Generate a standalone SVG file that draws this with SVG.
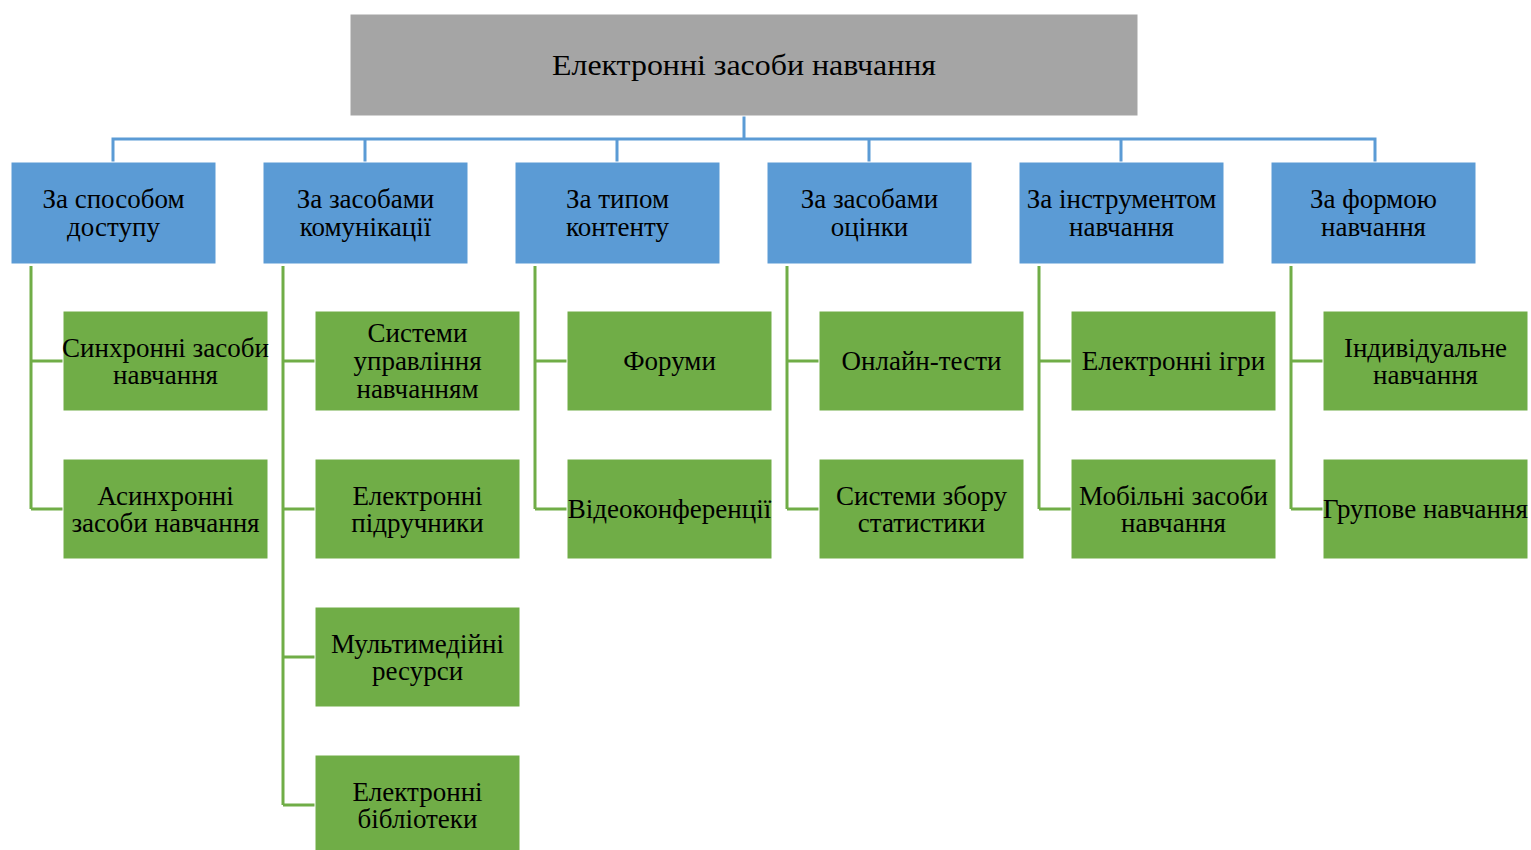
<svg xmlns="http://www.w3.org/2000/svg" width="1531" height="850" viewBox="0 0 1531 850">
<style>
text{font-family:"Liberation Serif","Times New Roman",serif;fill:#000;text-anchor:middle}
.t{font-size:27px}
.root{fill:#A5A5A5;stroke:#fff;stroke-width:1}
.cat{fill:#5B9BD5;stroke:#fff;stroke-width:1}
.leaf{fill:#70AD47;stroke:#fff;stroke-width:1}
.bl{fill:none;stroke:#5B9BD5;stroke-width:3}
.gl{fill:none;stroke:#70AD47;stroke-width:3}
</style>
<rect width="1531" height="850" fill="#fff"/>
<g id="connectors">
<path class="bl" d="M744 116V139M113 162V139H1375V162M365 139V162M617 139V162M869 139V162M1121 139V162"/>
<path class="gl" d="M31 266V509M31 361H63M31 509H63"/>
<path class="gl" d="M283 266V805M283 361H315M283 509H315M283 657H315M283 805H315"/>
<path class="gl" d="M535 266V509M535 361H567M535 509H567"/>
<path class="gl" d="M787 266V509M787 361H819M787 509H819"/>
<path class="gl" d="M1039 266V509M1039 361H1071M1039 509H1071"/>
<path class="gl" d="M1291 266V509M1291 361H1323M1291 509H1323"/>
</g>
<g id="root"><rect class="root" x="350" y="14" width="788" height="102"/><text x="744" y="75" font-size="30" textLength="384" lengthAdjust="spacingAndGlyphs">Електронні засоби навчання</text></g>
<g id="c1"><rect class="cat" x="11" y="162" width="205" height="102"/><text class="t" x="113.5" y="208">За способом</text><text class="t" x="113.5" y="236">доступу</text></g>
<g id="c2"><rect class="cat" x="263" y="162" width="205" height="102"/><text class="t" x="365.5" y="208">За засобами</text><text class="t" x="365.5" y="236">комунікації</text></g>
<g id="c3"><rect class="cat" x="515" y="162" width="205" height="102"/><text class="t" x="617.5" y="208">За типом</text><text class="t" x="617.5" y="236">контенту</text></g>
<g id="c4"><rect class="cat" x="767" y="162" width="205" height="102"/><text class="t" x="869.5" y="208">За засобами</text><text class="t" x="869.5" y="236">оцінки</text></g>
<g id="c5"><rect class="cat" x="1019" y="162" width="205" height="102"/><text class="t" x="1121.5" y="208">За інструментом</text><text class="t" x="1121.5" y="236">навчання</text></g>
<g id="c6"><rect class="cat" x="1271" y="162" width="205" height="102"/><text class="t" x="1373.5" y="208">За формою</text><text class="t" x="1373.5" y="236">навчання</text></g>
<g id="l11"><rect class="leaf" x="63" y="311" width="205" height="100"/><text class="t" x="165.5" y="357">Синхронні засоби</text><text class="t" x="165.5" y="384">навчання</text></g>
<g id="l12"><rect class="leaf" x="63" y="459" width="205" height="100"/><text class="t" x="165.5" y="505">Асинхронні</text><text class="t" x="165.5" y="532">засоби навчання</text></g>
<g id="l21"><rect class="leaf" x="315" y="311" width="205" height="100"/><text class="t" x="417.5" y="342">Системи</text><text class="t" x="417.5" y="370">управління</text><text class="t" x="417.5" y="398">навчанням</text></g>
<g id="l22"><rect class="leaf" x="315" y="459" width="205" height="100"/><text class="t" x="417.5" y="505">Електронні</text><text class="t" x="417.5" y="532">підручники</text></g>
<g id="l23"><rect class="leaf" x="315" y="607" width="205" height="100"/><text class="t" x="417.5" y="653">Мультимедійні</text><text class="t" x="417.5" y="680">ресурси</text></g>
<g id="l24"><rect class="leaf" x="315" y="755" width="205" height="100"/><text class="t" x="417.5" y="801">Електронні</text><text class="t" x="417.5" y="828">бібліотеки</text></g>
<g id="l31"><rect class="leaf" x="567" y="311" width="205" height="100"/><text class="t" x="669.5" y="370">Форуми</text></g>
<g id="l32"><rect class="leaf" x="567" y="459" width="205" height="100"/><text class="t" x="669.5" y="518">Відеоконференції</text></g>
<g id="l41"><rect class="leaf" x="819" y="311" width="205" height="100"/><text class="t" x="921.5" y="370">Онлайн-тести</text></g>
<g id="l42"><rect class="leaf" x="819" y="459" width="205" height="100"/><text class="t" x="921.5" y="505">Системи збору</text><text class="t" x="921.5" y="532">статистики</text></g>
<g id="l51"><rect class="leaf" x="1071" y="311" width="205" height="100"/><text class="t" x="1173.5" y="370">Електронні ігри</text></g>
<g id="l52"><rect class="leaf" x="1071" y="459" width="205" height="100"/><text class="t" x="1173.5" y="505">Мобільні засоби</text><text class="t" x="1173.5" y="532">навчання</text></g>
<g id="l61"><rect class="leaf" x="1323" y="311" width="205" height="100"/><text class="t" x="1425.5" y="357">Індивідуальне</text><text class="t" x="1425.5" y="384">навчання</text></g>
<g id="l62"><rect class="leaf" x="1323" y="459" width="205" height="100"/><text class="t" x="1425.5" y="518">Групове навчання</text></g>
</svg>
